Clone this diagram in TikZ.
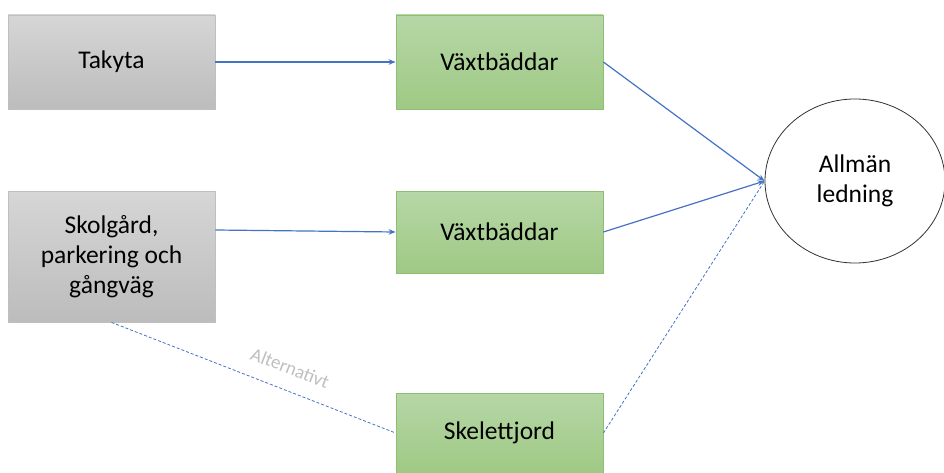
\documentclass[tikz,border=0pt]{standalone}
\usepackage{fontspec}
\setmainfont{Carlito}
\usetikzlibrary{arrows.meta,shapes.geometric}
\definecolor{arrowblue}{HTML}{4472C4}
\definecolor{graytop}{HTML}{D6D6D6}
\definecolor{graybot}{HTML}{BCBCBC}
\definecolor{grayedge}{HTML}{BFBFBF}
\definecolor{greentop}{HTML}{B6D7A6}
\definecolor{greenbot}{HTML}{9FC985}
\definecolor{greenedge}{HTML}{8CBF72}
\definecolor{labelgray}{HTML}{BFBFBF}
\begin{document}
\begin{tikzpicture}[x=1pt,y=-1pt,
  boxfont/.style={font=\fontsize{25.5}{30}\selectfont},
  graybox/.style={draw=grayedge,line width=0.8pt,top color=graytop,bottom color=graybot,
    minimum width=207pt,inner sep=2pt,align=center,boxfont},
  greenbox/.style={draw=greenedge,line width=0.8pt,top color=greentop,bottom color=greenbot,
    minimum width=207pt,inner sep=2pt,align=center,boxfont},
  flow/.style={draw=arrowblue,line width=1.2pt,-{Stealth[length=7pt,width=5.5pt]}},
  altflow/.style={draw=arrowblue,line width=0.8pt,dash pattern=on 3pt off 2pt},
]
\useasboundingbox (0,0) rectangle (944,473);
\node[graybox,minimum height=94pt] (tak) at (111.5,62) {Takyta};
\node[greenbox,minimum height=94pt] (vx1) at (499.5,62) {Växtbäddar};
\node[graybox,minimum height=131pt] (skol) at (111.5,256.5) {Skolgård,\\parkering och\\gångväg};
\node[greenbox,minimum height=82pt] (vx2) at (499.5,232) {Växtbäddar};
\node[greenbox,minimum height=80pt] (skel) at (499.5,433) {Skelettjord};
\node[ellipse,draw=black!80,line width=0.8pt,fill=white,minimum width=180pt,minimum height=164pt,
  align=center,boxfont] (all) at (855,181) {Allmän\\ledning};
\draw[flow] (tak.east) -- (vx1.west);
\draw[flow] ([yshift=26.5pt]skol.east) -- (vx2.west);
\draw[flow] (vx1.east) -- (all.west);
\draw[flow] (vx2.east) -- (all.west);
\draw[altflow] (skel.east) -- (all.west);
\draw[altflow] (skol.south) -- node[pos=0.6,sloped,above=12pt,text=labelgray,
  font=\fontsize{19}{22}\selectfont] {Alternativt} (skel.west);
\end{tikzpicture}
\end{document}
